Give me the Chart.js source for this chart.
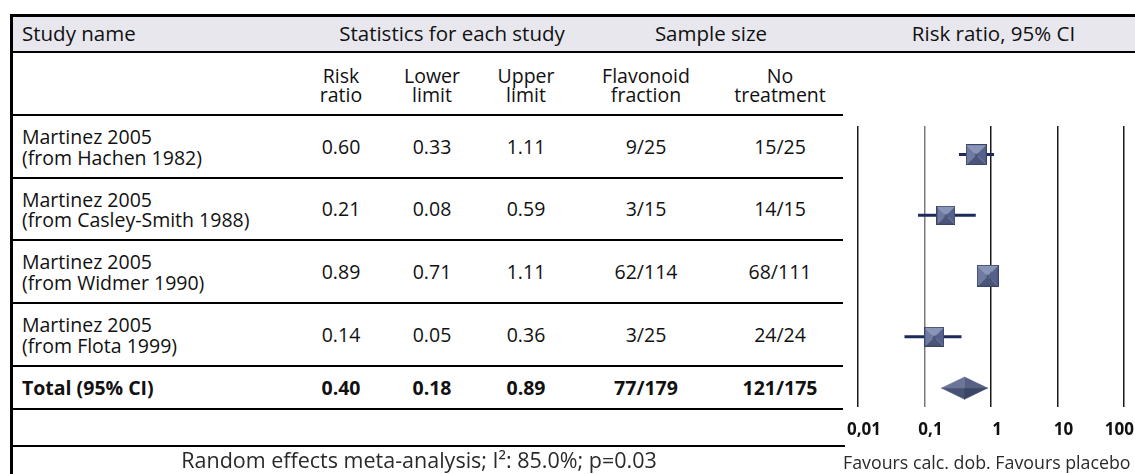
<!DOCTYPE html>
<html>
<head>
<meta charset="utf-8">
<script src="https://cdn.jsdelivr.net/npm/chart.js@4"></script>
<style>
  body { margin: 0; background: #fff; }
  #wrap { position: relative; width: 1135px; height: 474px; overflow: hidden;
          font-family: "Open Sans", "DejaVu Sans", sans-serif; color: #111; }
  .rule { position: absolute; background: #000; }
  .t { position: absolute; white-space: pre; line-height: 20px; }
  .c { transform: translate(-50%, -50%); text-align: center; }
  .l { transform: translateY(-50%); }
  #plot { position: absolute; left: 843px; top: 115px; }
</style>
</head>
<body>
<div id="wrap"><canvas id="plot" width="292" height="359"></canvas></div>
<script>
// ---- study data ----
const studyNames = [
  ['Martinez 2005', '(from Hachen 1982)'],
  ['Martinez 2005', '(from Casley-Smith 1988)'],
  ['Martinez 2005', '(from Widmer 1990)'],
  ['Martinez 2005', '(from Flota 1999)']
];
const riskRatio  = [0.60, 0.21, 0.89, 0.14];
const lowerLimit = [0.33, 0.08, 0.71, 0.05];
const upperLimit = [1.11, 0.59, 1.11, 0.36];
const flavonoidFraction = ['9/25', '3/15', '62/114', '3/25'];
const noTreatment       = ['15/25', '14/15', '68/111', '24/24'];

// ---- pooled estimate ----
const totalLabel = 'Total (95% CI)';
const totalRiskRatio = 0.40;
const totalLower = 0.18;
const totalUpper = 0.89;
const totalFlavonoid = '77/179';
const totalNoTreatment = '121/175';

// ---- axis ----
const axisTicks = [0.01, 0.1, 1, 10, 100];
const axisTickLabels = ['0,01', '0,1', '1', '10', '100'];

// ---- table texts ----
const headerTitles = ['Study name', 'Statistics for each study', 'Sample size', 'Risk ratio, 95% CI'];
const columnHeads = [['Risk', 'ratio'], ['Lower', 'limit'], ['Upper', 'limit'],
                     ['Flavonoid', 'fraction'], ['No', 'treatment']];
const footNote = 'Random effects meta-analysis; I\u00B2: 85.0%; p=0.03';
const favoursNote = 'Favours calc. dob. Favours placebo';

// ---- layout ----
const wrap = document.getElementById('wrap');
const TABLE_LEFT = 11, TABLE_RIGHT = 843, PAGE_RIGHT = 1135;
const rowLines = [115, 178, 240, 303, 366, 409, 446];   // horizontal rules of the body rows
const colX = [341, 432, 526, 646, 780];                 // column centres
const PLOT_TOP = 115;

function box(x, y, w, h, bg) {
  const d = document.createElement('div');
  d.className = 'rule';
  Object.assign(d.style, { left: x + 'px', top: y + 'px', width: w + 'px', height: h + 'px' });
  if (bg) d.style.background = bg;
  wrap.appendChild(d);
  return d;
}
function text(str, x, y, cls, extra) {
  const d = document.createElement('div');
  d.className = 't ' + cls;
  d.textContent = str;
  d.style.left = x + 'px';
  d.style.top = y + 'px';
  Object.assign(d.style, extra || {});
  wrap.appendChild(d);
  return d;
}
const rowMid = i => (rowLines[i] + rowLines[i + 1]) / 2;

// header band and frame
box(TABLE_LEFT, 15, PAGE_RIGHT - TABLE_LEFT, 37, '#e7e7ed');
box(TABLE_LEFT, 14, PAGE_RIGHT - TABLE_LEFT, 2.5);
box(TABLE_LEFT, 50.5, PAGE_RIGHT - TABLE_LEFT, 2.5);
box(10, 14, 2.5, 474 - 14);
rowLines.forEach(y => box(TABLE_LEFT, y - 1.25, TABLE_RIGHT - TABLE_LEFT + (y === 446 ? 2 : 0), 2.5));

// header texts
const hf = { fontSize: '20.5px' };
text(headerTitles[0], 22, 33, 'l', hf);
text(headerTitles[1], 452, 33, 'c', hf);
text(headerTitles[2], 711, 33, 'c', hf);
text(headerTitles[3], 993.5, 33, 'c', hf);
columnHeads.forEach((h, i) => {
  text(h.join('\n'), colX[i], 84.5, 'c', { fontSize: '19.5px', lineHeight: '19.5px' });
});

// study rows
const bodyFont = { fontSize: '19.5px' };
studyNames.forEach((name, i) => {
  const m = rowMid(i);
  text(name.join('\n'), 22, m + 0.5, 'l', { fontSize: '19.5px', lineHeight: '20.5px' });
  text(riskRatio[i].toFixed(2), colX[0], m, 'c', bodyFont);
  text(lowerLimit[i].toFixed(2), colX[1], m, 'c', bodyFont);
  text(upperLimit[i].toFixed(2), colX[2], m, 'c', bodyFont);
  text(flavonoidFraction[i], colX[3], m, 'c', bodyFont);
  text(noTreatment[i], colX[4], m, 'c', bodyFont);
});

// pooled row
const boldFont = { fontSize: '19.5px', fontWeight: '700' };
const tm = rowMid(4);
text(totalLabel, 22, tm, 'l', boldFont);
text(totalRiskRatio.toFixed(2), colX[0], tm, 'c', boldFont);
text(totalLower.toFixed(2), colX[1], tm, 'c', boldFont);
text(totalUpper.toFixed(2), colX[2], tm, 'c', boldFont);
text(totalFlavonoid, colX[3], tm, 'c', boldFont);
text(totalNoTreatment, colX[4], tm, 'c', boldFont);

// footer notes
text(footNote, 419, 459.5, 'c', { fontSize: '21.5px', lineHeight: '22px', color: '#2a2a2a' });
text(favoursNote, 843, 462, 'l', { fontSize: '17.8px', lineHeight: '20px', color: '#2a2a2a' });

// ---- marker sprites ----
function bevelSquare(size) {
  const c = document.createElement('canvas');
  c.width = size; c.height = size;
  const g = c.getContext('2d');
  const h = size / 2;
  const face = (pts, col) => {
    g.beginPath(); g.moveTo(pts[0][0], pts[0][1]);
    pts.slice(1).forEach(p => g.lineTo(p[0], p[1]));
    g.closePath(); g.fillStyle = col; g.fill();
  };
  face([[0, 0], [size, 0], [h, h]], '#8a94b6');
  face([[0, 0], [h, h], [0, size]], '#6e7aa0');
  face([[size, 0], [size, size], [h, h]], '#55618a');
  face([[0, size], [h, h], [size, size]], '#4a5579');
  g.strokeStyle = '#3a4466'; g.lineWidth = 1;
  g.strokeRect(0.5, 0.5, size - 1, size - 1);
  return c;
}
const markerSizes = [21, 19, 22, 20];

// vertical position of every row inside the plot canvas
const rowY = studyNames.map((_, i) => rowMid(i) - PLOT_TOP);
const totalY = rowMid(4) - PLOT_TOP;
const DIAMOND_HALF = 11.5;

const ciSets = riskRatio.map((_, i) => ({
  type: 'scatter', showLine: true, order: 2,
  data: [{ x: lowerLimit[i], y: rowY[i] }, { x: upperLimit[i], y: rowY[i] }],
  borderColor: '#1c2a5c', borderWidth: 3, pointRadius: 0, borderCapStyle: 'butt'
}));

const pointSet = {
  type: 'scatter', order: 0,
  data: riskRatio.map((v, i) => ({ x: v, y: rowY[i] })),
  pointStyle: markerSizes.map(bevelSquare),
  pointRadius: 10
};

const dL = { x: totalLower, y: totalY };
const dR = { x: totalUpper, y: totalY };
const dT = { x: totalRiskRatio, y: totalY - DIAMOND_HALF };
const dB = { x: totalRiskRatio, y: totalY + DIAMOND_HALF };
const dC = { x: totalRiskRatio, y: totalY };
const diamondFaces = [
  [[dL, dT, dC], '#6b7697'],
  [[dT, dR, dC], '#566183'],
  [[dR, dB, dC], '#3b4565'],
  [[dB, dL, dC], '#475274']
].map(([pts, col]) => ({
  type: 'scatter', showLine: true, order: 1,
  data: pts.concat([pts[0]]),
  fill: 'shape', backgroundColor: col, borderColor: col, borderWidth: 0.5,
  pointRadius: 0, tension: 0
}));

const tickLabelPlugin = {
  id: 'tickLabels',
  afterDraw(chart) {
    const ctx = chart.ctx, xs = chart.scales.x;
    ctx.save();
    ctx.font = 'bold 17px "Open Sans", sans-serif';
    ctx.fillStyle = '#111';
    ctx.textBaseline = 'middle';
    ctx.textAlign = 'left';
    axisTicks.forEach((v, i) => {
      const label = axisTickLabels[i];
      const w = ctx.measureText(label).width;
      let x = xs.getPixelForValue(v) + 6 - w / 2;
      x = Math.max(0, Math.min(chart.width - w - 1, x));
      ctx.fillText(label, x, 430 - PLOT_TOP);
    });
    ctx.restore();
  }
};

new Chart(document.getElementById('plot'), {
  type: 'scatter',
  data: { datasets: [pointSet, ...diamondFaces, ...ciSets] },
  options: {
    responsive: false,
    animation: false,
    devicePixelRatio: 1,
    layout: { padding: { left: 15, right: 7, top: 2, bottom: 67 } },
    plugins: { legend: { display: false }, tooltip: { enabled: false } },
    scales: {
      x: {
        type: 'logarithmic', min: 0.01, max: 100,
        afterBuildTicks: s => { s.ticks = axisTicks.map(v => ({ value: v })); },
        afterFit: s => { s.height = 0; },
        ticks: { display: false },
        grid: {
          drawTicks: false, lineWidth: 1.5,
          color: c => (c.tick && c.tick.value === 0.1) ? '#7a7a7a' : '#1a1a1a'
        },
        border: { display: false }
      },
      y: { type: 'linear', display: false, reverse: true, min: 2, max: 292 }
    }
  },
  plugins: [tickLabelPlugin]
});
</script>
</body>
</html>
